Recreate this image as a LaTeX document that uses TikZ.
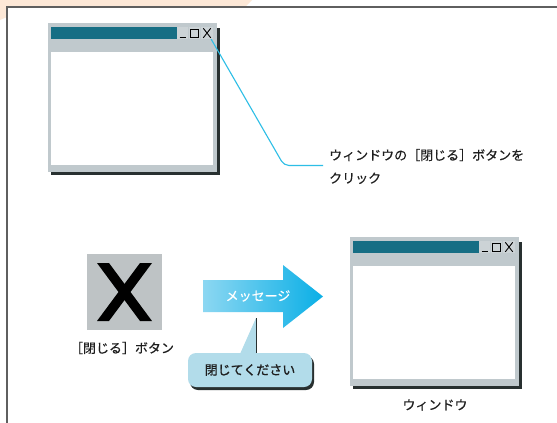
\documentclass[tikz,border=0pt]{standalone}
\usepackage{fontspec}
\setmainfont[FakeBold=0.35]{Noto Sans CJK JP}
\newfontfamily\cjkb[FakeBold=1.2]{Noto Sans CJK JP}
\usetikzlibrary{calc}
\definecolor{peach}{RGB}{253,232,215}
\definecolor{frameline}{RGB}{95,95,95}
\definecolor{wingray}{RGB}{192,201,205}
\definecolor{btngray}{RGB}{204,211,214}
\definecolor{teal1}{RGB}{22,110,132}
\definecolor{shadowc}{RGB}{40,48,48}
\definecolor{cyanline}{RGB}{45,190,230}
\definecolor{arrowL}{RGB}{140,215,242}
\definecolor{arrowR}{RGB}{10,175,230}
\definecolor{callout}{RGB}{178,220,234}
\definecolor{txt}{RGB}{30,30,30}
\definecolor{xgray}{RGB}{190,195,197}
\tikzset{
  btn/.style={fill=btngray, inner sep=0pt, minimum width=11pt, minimum height=12pt},
  lbl/.style={text=txt, inner sep=0pt, font=\fontsize{13}{23}\selectfont},
}
\newcommand\drawwin[2]{%
\begin{scope}[shift={#1}]
 \fill[shadowc] (3,5) rectangle (172,152);
 \fill[wingray] (0,0) rectangle (169,149);
 \fill[teal1] (3,4) rectangle (129,16);
 \node[btn] (#2min) at (134.8,10) {};
 \node[btn] (#2max) at (146.6,10) {};
 \node[btn, minimum width=12pt] (#2close) at (159,10) {};
 \draw[black, line width=1.6pt] (131.5,14.3) -- (137.5,14.3);
 \draw[black, line width=0.8pt] (142.8,6.3) rectangle (150.8,14.6);
 \draw[black, line width=1.4pt] (142.8,6.6) -- (150.8,6.6);
 \draw[black, line width=0.9pt] (155.3,5.3) -- (162.7,14.8) (162.7,5.3) -- (155.3,14.8);
 \fill[white] (3,29) rectangle (165,142);
\end{scope}}
\begin{document}
\begin{tikzpicture}[x=1pt,y=-1pt]
\useasboundingbox (0,0) rectangle (557,423);
\fill[white] (0,0) rectangle (557,423);
\fill[peach] (0,0) -- (252,0) -- (245,7) -- (7,7) -- (7,17) -- (0,20) -- cycle;
\draw[frameline, line width=1.8pt] (7,423) -- (7,7) -- (557,7);

\drawwin{(48,23)}{a}
\drawwin{(350,237)}{b}

\node[lbl, anchor=west, align=left] (t1) at (329,166.5) {ウィンドウの［閉じる］ボタンを\\クリック};
\draw[cyanline, line width=1.1pt, rounded corners=5pt]
  ([shift={(-2,0)}]aclose.south east) -- ($(t1.west)+(-45,-1)$) -- ($(t1.west)+(-6,-1)$);

\node[fill=xgray, minimum width=75pt, minimum height=76pt, inner sep=0pt] (xbtn) at (124.5,292) {};
\fill[black] ($(xbtn.center)+(-27.5,-29)$) -- ++(12,0) -- ($(xbtn.center)+(27.5,29)$) -- ++(-12,0) -- cycle;
\fill[black] ($(xbtn.center)+(27.5,-29)$) -- ++(-12,0) -- ($(xbtn.center)+(-27.5,29)$) -- ++(12,0) -- cycle;
\node[lbl] (xlbl) at (122,348) {［閉じる］ボタン};

\shade[left color=arrowL, right color=arrowR]
  (203,280) -- (283,280) -- (283,265) -- (323,296.5) -- (283,328) -- (283,312) -- (203,312) -- cycle;
\node[text=white, inner sep=0pt, font=\fontsize{13}{16}\selectfont] (msg) at (258,296) {メッセージ};

\fill[shadowc, rounded corners=8pt] (190,356) rectangle (314,390);
\node[fill=callout, rounded corners=8pt, minimum width=124pt, minimum height=34pt, inner sep=0pt,
      text=txt, font=\cjkb\fontsize{13}{16}\selectfont] (call) at (250,370) {閉じてください};
\fill[callout] (240,354) -- (256,318) -- (256,354) -- cycle;
\draw[shadowc, line width=1pt] (256.5,318) -- (256.5,353);

\node[lbl] (wlbl) at (435,405) {ウィンドウ};
\end{tikzpicture}
\end{document}
